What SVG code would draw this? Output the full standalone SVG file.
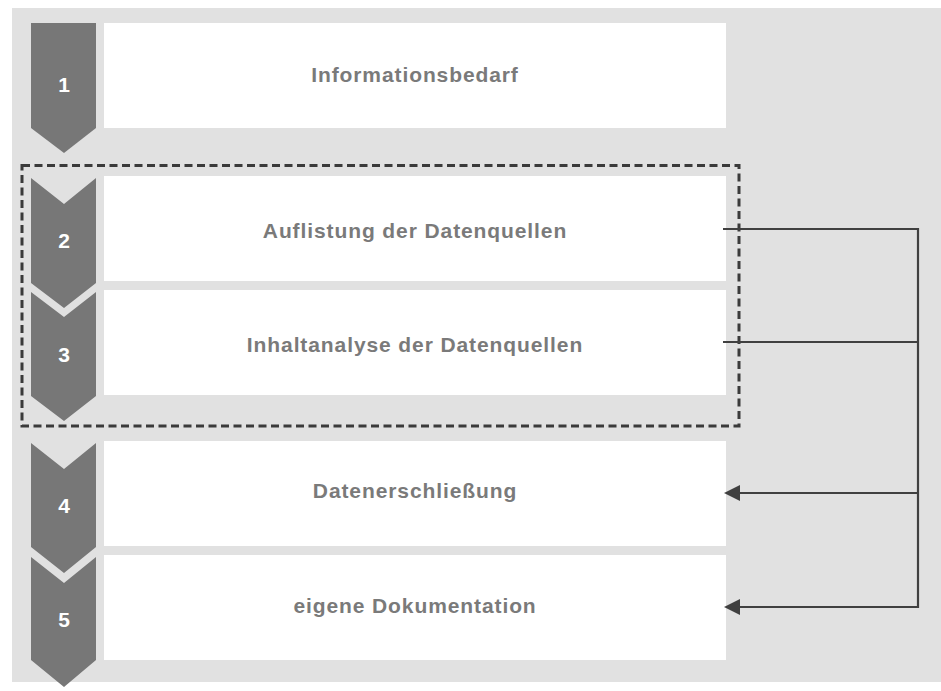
<svg xmlns="http://www.w3.org/2000/svg" width="941" height="691" viewBox="0 0 941 691">
<defs>
<style>
.bg{fill:#e1e1e1}
.box{fill:#ffffff}
.chev{fill:#777777}
.num{font-family:"Liberation Sans",Arial,sans-serif;font-weight:bold;font-size:21px;fill:#ffffff;text-anchor:middle}
.lbl{font-family:"Liberation Sans",Arial,sans-serif;font-weight:bold;font-size:21px;letter-spacing:0.9px;fill:#7a7a7a;text-anchor:middle}
.dash{fill:none;stroke:#3a3a3a;stroke-width:3;stroke-dasharray:8 4.5}
.conn{fill:none;stroke:#404040;stroke-width:2.2}
</style>
<marker id="arr" markerUnits="userSpaceOnUse" markerWidth="16" markerHeight="16" viewBox="0 0 16 16" refX="14" refY="8" orient="auto">
<path d="M0,0 L16,8 L0,16 z" fill="#404040"/>
</marker>
</defs>
<rect class="bg" x="12" y="8" width="929" height="674"/>
<g id="step1">
<path class="chev" d="M31,23 H96 V128 L64,153 L31,128 Z"/>
<text class="num" x="64" y="92">1</text>
<rect class="box" x="104" y="23" width="622" height="105"/>
<text class="lbl" x="415" y="82">Informationsbedarf</text>
</g>
<g id="step2">
<path class="chev" d="M31,178 L64,204 L96,178 V283 L64,308 L31,283 Z"/>
<text class="num" x="64" y="248">2</text>
<rect class="box" x="104" y="176" width="622" height="105"/>
<text class="lbl" x="415" y="238">Auflistung der Datenquellen</text>
</g>
<g id="step3">
<path class="chev" d="M31,292 L64,317 L96,292 V396 L64,421 L31,396 Z"/>
<text class="num" x="64" y="362">3</text>
<rect class="box" x="104" y="290" width="622" height="105"/>
<text class="lbl" x="415" y="352">Inhaltanalyse der Datenquellen</text>
</g>
<g id="group23">
<rect class="dash" x="22" y="165.5" width="717" height="260.5"/>
</g>
<g id="step4">
<path class="chev" d="M31,443 L64,469 L96,443 V547 L64,573 L31,547 Z"/>
<text class="num" x="64" y="513">4</text>
<rect class="box" x="104" y="441" width="622" height="105"/>
<text class="lbl" x="415" y="498">Datenerschließung</text>
</g>
<g id="step5">
<path class="chev" d="M31,557 L64,583 L96,557 V660 L64,687 L31,660 Z"/>
<text class="num" x="64" y="627">5</text>
<rect class="box" x="104" y="555" width="622" height="105"/>
<text class="lbl" x="415" y="613">eigene Dokumentation</text>
</g>
<g id="connectors">
<path class="conn" d="M723,229 H918 V607 H726" marker-end="url(#arr)"/>
<path class="conn" d="M723,342 H918"/>
<path class="conn" d="M918,493 H726" marker-end="url(#arr)"/>
</g>
</svg>
